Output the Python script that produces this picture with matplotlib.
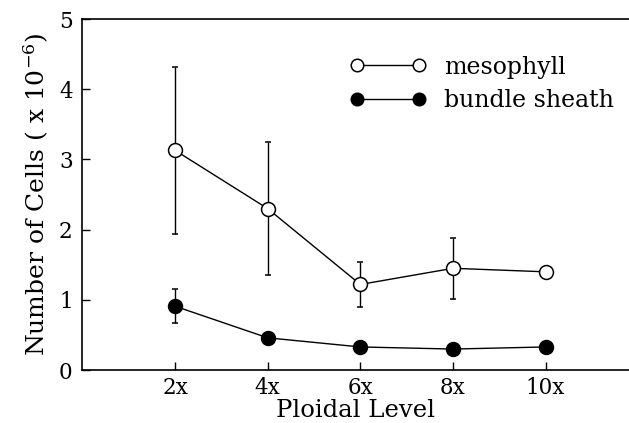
import numpy as np
import matplotlib.pyplot as plt

plt.rcParams['font.family'] = 'DejaVu Serif'
plt.rcParams['mathtext.fontset'] = 'dejavuserif'

# ploidy levels (x positions) and tick labels
ploidy = [2, 4, 6, 8, 10]
ploidy_labels = ['2x', '4x', '6x', '8x', '10x']

# mesophyll cells (x 10^-6)
meso = [3.13, 2.30, 1.22, 1.45, 1.40]
meso_err = [1.19, 0.95, 0.32, 0.43, 0.0]

# bundle sheath cells (x 10^-6)
bs = [0.91, 0.46, 0.33, 0.30, 0.33]
bs_err = [0.24, 0.0, 0.0, 0.0, 0.0]

fig = plt.figure(figsize=(6.29, 4.23), dpi=100)
ax = fig.add_axes([0.131, 0.125, 0.869, 0.830])

ax.errorbar(ploidy, meso, yerr=meso_err, fmt='o-', color='black', mfc='white',
            mec='black', ms=10, mew=1.1, lw=1.0, elinewidth=1.0, capsize=2.5,
            label='mesophyll', zorder=3)
ax.errorbar(ploidy, bs, yerr=bs_err, fmt='o-', color='black', mfc='black',
            mec='black', ms=10, mew=1.1, lw=1.0, elinewidth=1.0, capsize=2.5,
            label='bundle sheath', zorder=3)

ax.set_xlim(0, 11.8)
ax.set_ylim(0, 5)
ax.set_xticks(ploidy)
ax.set_xticklabels(ploidy_labels)
ax.set_yticks([0, 1, 2, 3, 4, 5])
ax.tick_params(direction='in', length=6, width=1, labelsize=15.5)
ax.tick_params(axis='x', pad=5)
ax.tick_params(axis='y', pad=7)
ax.spines['right'].set_visible(False)
for s in ['left', 'bottom', 'top']:
    ax.spines[s].set_linewidth(1.2)

ax.set_xlabel('Ploidal Level', fontsize=17.5, labelpad=0)
ax.set_ylabel(r'Number of Cells ( x 10$^{-6}$)', fontsize=18, labelpad=6)

handles, labels = ax.get_legend_handles_labels()
handles = [h[0] for h in handles]
leg = ax.legend(handles, labels, loc='upper left', bbox_to_anchor=(0.451, 0.956),
                frameon=False, fontsize=17, numpoints=2, handlelength=3.2,
                markerscale=0.9, handletextpad=0.76, labelspacing=0.44)

fig.savefig('out.png', dpi=100)
